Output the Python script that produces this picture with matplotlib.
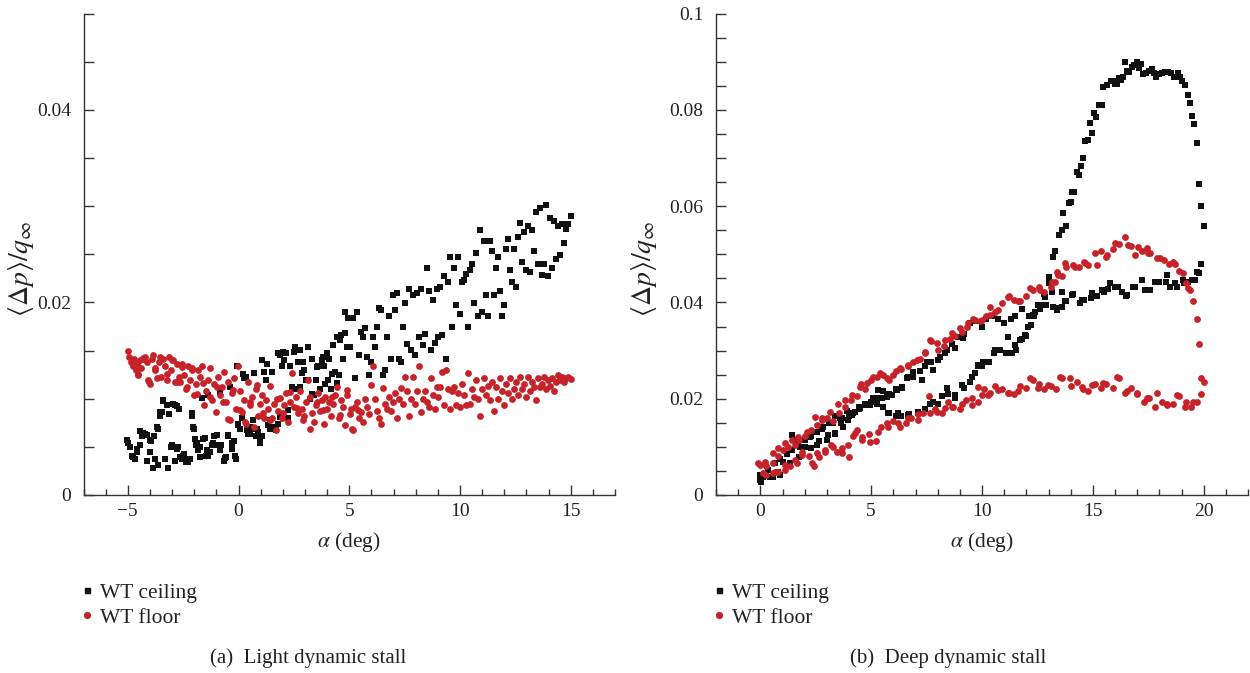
import matplotlib
matplotlib.use("Agg")
import matplotlib.pyplot as plt
from matplotlib.ticker import MultipleLocator, FixedLocator, FuncFormatter
from matplotlib.lines import Line2D

plt.rcParams['font.family'] = ['Liberation Serif', 'DejaVu Serif']
plt.rcParams['mathtext.fontset'] = 'stix'

# ---------------- (a) Light dynamic stall ----------------
light_ceiling_alpha = [
    -5.0, -4.89, -4.77, -4.68, -4.59, -4.46, -4.35, -4.23, -4.14, -4.0, -3.96, -3.82, -3.75, -3.64, -3.55,
    -3.46, -3.42, -3.33, -3.24, -3.15, -3.03, -2.97, -2.89, -2.80, -2.71, -2.62, -2.53, -2.44, -2.35, -2.26,
    -2.17, -2.08, -1.99, -1.95, -1.90, -1.81, -1.72, -1.63, -1.59, -1.49, -1.42, -1.36, -1.27, -1.18, -1.09,
    -1.0, -0.91, -0.82, -0.77, -0.65, -0.56, -0.47, -0.38, -0.29, -0.20, -0.11, -0.05, -0.02, 0.07, 0.16,
    0.25, 0.34, 0.43, 0.52, 0.61, 0.70, 0.79, 0.88, 0.97, 1.06, 1.15, 1.24, 1.33, 1.42, 1.51,
    1.59, 1.68, 1.77, 1.77, 1.86, 1.95, 2.04, 2.13, 2.22, 2.31, 2.40, 2.49, 2.58, 2.67, 2.76,
    2.85, 2.94, 3.03, 3.12, 3.21, 3.30, 3.39, 3.48, 3.57, 3.66, 3.75, 3.84, 3.92, 4.01, 4.10,
    4.19, 4.28, 4.37, 4.46, 4.55, 4.64, 4.73, 4.82, 4.91, 4.96, 5.04, 5.18, 5.27, 5.36, 5.45,
    5.54, 5.63, 5.72, 5.81, 5.90, 5.99, 6.08, 6.16, 6.25, 6.34, 6.43, 6.52, 6.61, 6.70, 6.79,
    6.88, 6.97, 7.06, 7.15, 7.24, 7.33, 7.42, 7.51, 7.60, 7.69, 7.78, 7.87, 7.96, 8.05, 8.14,
    8.23, 8.32, 8.40, 8.49, 8.58, 8.67, 8.76, 8.85, 8.94, 9.03, 9.12, 9.21, 9.30, 9.39, 9.48,
    9.57, 9.66, 9.75, 9.84, 9.93, 10.02, 10.11, 10.20, 10.29, 10.38, 10.47, 10.56, 10.65, 10.73, 10.82,
    10.91, 11.0, 11.09, 11.18, 11.27, 11.36, 11.45, 11.54, 11.63, 11.72, 11.81, 11.90, 11.99, 12.08, 12.17,
    12.26, 12.35, 12.44, 12.53, 12.62, 12.71, 12.80, 12.89, 12.97, 13.06, 13.15, 13.24, 13.33, 13.42, 13.51,
    13.60, 13.69, 13.78, 13.87, 13.96, 14.05, 14.14, 14.23, 14.32, 14.41, 14.50, 14.59, 14.68, 14.77, 14.86,
    15.0,
    -5.05, -4.9, -4.82, -4.6, -4.45, -4.3, -4.15, -4.0, -3.85, -3.7, -3.62, -3.55, -3.4, -3.17, -3.02,
    -2.87, -2.79, -2.72, -2.49, -2.27, -2.12, -2.04, -1.89, -1.74, -1.51, -1.37, -1.14, -0.99, -0.84, -0.61,
    -0.46, -0.31, -0.16, -0.01, 0.21, 0.37, 0.52, 0.67, 0.82, 0.97, 1.05, 1.27, 1.42, 1.65, 1.87,
    2.02, 2.25, 2.4, 2.55, 2.77, 2.92, 3.15, 3.3, 3.53, 3.83, 4.05, 4.2, 4.43, 4.58, 4.81]
light_ceiling_dp = [
    0.0054, 0.0050, 0.0039, 0.0037, 0.0048, 0.0052, 0.0061, 0.0063, 0.0035, 0.0045, 0.0056, 0.0061, 0.0037, 0.0069, 0.0082,
    0.0086, 0.0099, 0.0037, 0.0093, 0.0084, 0.0050, 0.0095, 0.0093, 0.0048, 0.0089, 0.0039, 0.0037, 0.0043, 0.0034, 0.0034,
    0.0037, 0.0082, 0.0069, 0.0058, 0.0052, 0.0047, 0.0039, 0.0101, 0.0058, 0.0041, 0.0047, 0.0104, 0.0045, 0.0052, 0.0061,
    0.0052, 0.0052, 0.0047, 0.0052, 0.0035, 0.0039, 0.0061, 0.0112, 0.0048, 0.0056, 0.0037, 0.0134, 0.0073, 0.0069, 0.0080,
    0.0121, 0.0123, 0.0063, 0.0063, 0.0069, 0.0127, 0.0061, 0.0065, 0.0054, 0.0061, 0.0128, 0.0119, 0.0073, 0.0069, 0.0128,
    0.0071, 0.0067, 0.0074, 0.0147, 0.0145, 0.0134, 0.0140, 0.0147, 0.0080, 0.0134, 0.0112, 0.0149, 0.0110, 0.0138, 0.0151,
    0.0127, 0.0130, 0.0119, 0.0154, 0.0100, 0.0141, 0.0104, 0.0119, 0.0134, 0.0110, 0.0140, 0.0134, 0.0115, 0.0147, 0.0141,
    0.0110, 0.0156, 0.0128, 0.0164, 0.0125, 0.0166, 0.0141, 0.0190, 0.0154, 0.0184, 0.0154, 0.0184, 0.0121, 0.0190, 0.0145,
    0.0169, 0.0164, 0.0173, 0.0143, 0.0125, 0.0138, 0.0164, 0.0154, 0.0175, 0.0194, 0.0192, 0.0125, 0.0130, 0.0164, 0.0186,
    0.0141, 0.0208, 0.0192, 0.0210, 0.0141, 0.0138, 0.0175, 0.0199, 0.0157, 0.0214, 0.0151, 0.0208, 0.0145, 0.0210, 0.0164,
    0.0214, 0.0156, 0.0167, 0.0236, 0.0212, 0.0151, 0.0203, 0.0158, 0.0214, 0.0164, 0.0216, 0.0166, 0.0227, 0.0141, 0.0221,
    0.0247, 0.0175, 0.0236, 0.0197, 0.0247, 0.0188, 0.0221, 0.0223, 0.0230, 0.0175, 0.0234, 0.0240, 0.0199, 0.0251, 0.0186,
    0.0275, 0.0190, 0.0264, 0.0208, 0.0186, 0.0264, 0.0253, 0.0208, 0.0236, 0.0247, 0.0212, 0.0186, 0.0197, 0.0256, 0.0266,
    0.0234, 0.0221, 0.0255, 0.0216, 0.0268, 0.0283, 0.0242, 0.0273, 0.0234, 0.0279, 0.0232, 0.0275, 0.0253, 0.0294, 0.0240,
    0.0298, 0.0229, 0.0240, 0.0301, 0.0227, 0.0288, 0.0236, 0.0285, 0.0245, 0.0279, 0.0249, 0.0281, 0.0262, 0.0276, 0.0281,
    0.0290,
    0.0057, 0.0050, 0.0041, 0.0045, 0.0066, 0.0064, 0.0062, 0.0057, 0.0028, 0.0071, 0.0031, 0.0086, 0.0098, 0.0028, 0.0052,
    0.0035, 0.0092, 0.0050, 0.0040, 0.0036, 0.0085, 0.0071, 0.0054, 0.0050, 0.0059, 0.0041, 0.0054, 0.0062, 0.0107, 0.0038,
    0.0062, 0.0054, 0.0040, 0.0074, 0.0126, 0.0067, 0.0071, 0.0078, 0.0069, 0.0060, 0.0140, 0.0136, 0.0078, 0.0071, 0.0081,
    0.0148, 0.0088, 0.0110, 0.0154, 0.0112, 0.0138, 0.0119, 0.0105, 0.0133, 0.0143, 0.0119, 0.0126, 0.0116, 0.0161, 0.0168]

light_floor_alpha = [
    -5.0, -4.93, -4.86, -4.77, -4.71, -4.64, -4.59, -4.53, -4.46, -4.39, -4.32, -4.23, -4.14, -4.05, -4.0,
    -3.92, -3.85, -3.78, -3.69, -3.60, -3.51, -3.42, -3.33, -3.24, -3.15, -3.06, -2.97, -2.89, -2.80, -2.71,
    -2.62, -2.53, -2.44, -2.35, -2.26, -2.17, -2.08, -1.99, -1.90, -1.81, -1.72, -1.63, -1.54, -1.45, -1.36,
    -1.27, -1.18, -1.09, -1.0, -0.91, -0.82, -0.73, -0.65, -0.56, -0.47, -0.38, -0.29, -0.20, -0.11, -0.02,
    0.07, 0.16, 0.25, 0.34, 0.43, 0.52, 0.61, 0.70, 0.79, 0.88, 0.97, 1.06, 1.15, 1.24, 1.33,
    1.42, 1.51, 1.59, 1.68, 1.77, 1.86, 1.95, 2.04, 2.13, 2.22, 2.31, 2.40, 2.49, 2.58, 2.67,
    2.76, 2.85, 2.94, 3.03, 3.12, 3.21, 3.30, 3.39, 3.48, 3.57, 3.66, 3.75, 3.84, 3.92, 4.01,
    4.10, 4.19, 4.28, 4.37, 4.46, 4.55, 4.64, 4.73, 4.82, 4.91, 5.04, 5.09, 5.18, 5.27, 5.36,
    5.45, 5.54, 5.63, 5.72, 5.81, 5.90, 5.99, 6.08, 6.16, 6.25, 6.34, 6.43, 6.52, 6.61, 6.70,
    6.79, 6.88, 6.97, 7.06, 7.15, 7.24, 7.33, 7.42, 7.51, 7.60, 7.69, 7.78, 7.87, 7.96, 8.05,
    8.14, 8.23, 8.32, 8.40, 8.49, 8.58, 8.67, 8.76, 8.85, 8.94, 9.03, 9.12, 9.21, 9.30, 9.39,
    9.48, 9.57, 9.66, 9.75, 9.84, 9.93, 10.02, 10.11, 10.20, 10.29, 10.38, 10.47, 10.56, 10.65, 10.73,
    10.82, 10.91, 11.0, 11.09, 11.18, 11.27, 11.36, 11.45, 11.54, 11.63, 11.72, 11.81, 11.90, 11.99, 12.08,
    12.17, 12.26, 12.35, 12.44, 12.53, 12.62, 12.71, 12.80, 12.89, 12.97, 13.06, 13.15, 13.24, 13.33, 13.42,
    13.51, 13.60, 13.69, 13.78, 13.87, 13.96, 14.05, 14.14, 14.23, 14.32, 14.41, 14.50, 14.59, 14.68, 14.77,
    14.86, 15.0,
    -4.75, -4.53, -4.3, -4.07, -3.77, -3.55, -3.24, -3.02, -2.79, -2.57, -2.34, -2.12, -1.89, -1.59, -1.29,
    -0.99, -0.69, -0.46, -0.24, 0.07, 0.29, 0.52, 0.82, 1.12, 1.42, 1.72, 2.02, 2.32, 2.63, 2.92,
    3.23, 3.53, 3.83, 4.2, 4.58, 4.88, 5.11, 5.41]
light_floor_dp = [
    0.0150, 0.0143, 0.0138, 0.0134, 0.0141, 0.0130, 0.0136, 0.0125, 0.0140, 0.0132, 0.0141, 0.0143, 0.0138, 0.0117, 0.0115,
    0.0141, 0.0145, 0.0132, 0.0121, 0.0138, 0.0123, 0.0141, 0.0134, 0.0119, 0.0143, 0.0130, 0.0140, 0.0117, 0.0136, 0.0123,
    0.0117, 0.0136, 0.0125, 0.0110, 0.0134, 0.0119, 0.0132, 0.0104, 0.0115, 0.0130, 0.0123, 0.0134, 0.0093, 0.0108, 0.0119,
    0.0132, 0.0099, 0.0115, 0.0086, 0.0123, 0.0104, 0.0112, 0.0128, 0.0097, 0.0117, 0.0078, 0.0106, 0.0121, 0.0089, 0.0134,
    0.0108, 0.0086, 0.0099, 0.0074, 0.0117, 0.0093, 0.0102, 0.0071, 0.0110, 0.0082, 0.0095, 0.0104, 0.0080, 0.0099, 0.0089,
    0.0113, 0.0080, 0.0095, 0.0067, 0.0087, 0.0101, 0.0080, 0.0093, 0.0106, 0.0076, 0.0097, 0.0127, 0.0091, 0.0102, 0.0085,
    0.0108, 0.0089, 0.0082, 0.0097, 0.0119, 0.0102, 0.0085, 0.0076, 0.0093, 0.0106, 0.0087, 0.0099, 0.0074, 0.0102, 0.0089,
    0.0097, 0.0082, 0.0095, 0.0104, 0.0112, 0.0080, 0.0099, 0.0091, 0.0073, 0.0104, 0.0084, 0.0089, 0.0067, 0.0091, 0.0097,
    0.0080, 0.0086, 0.0076, 0.0100, 0.0091, 0.0084, 0.0114, 0.0134, 0.0100, 0.0087, 0.0080, 0.0074, 0.0111, 0.0095, 0.0089,
    0.0102, 0.0087, 0.0097, 0.0106, 0.0080, 0.0100, 0.0111, 0.0095, 0.0123, 0.0108, 0.0082, 0.0100, 0.0123, 0.0095, 0.0108,
    0.0134, 0.0086, 0.0100, 0.0108, 0.0097, 0.0091, 0.0121, 0.0104, 0.0089, 0.0112, 0.0102, 0.0112, 0.0128, 0.0093, 0.0130,
    0.0110, 0.0089, 0.0108, 0.0112, 0.0093, 0.0106, 0.0091, 0.0115, 0.0104, 0.0093, 0.0127, 0.0095, 0.0110, 0.0102, 0.0119,
    0.0100, 0.0082, 0.0110, 0.0121, 0.0104, 0.0113, 0.0099, 0.0117, 0.0087, 0.0112, 0.0100, 0.0121, 0.0108, 0.0093, 0.0115,
    0.0106, 0.0121, 0.0100, 0.0110, 0.0117, 0.0104, 0.0123, 0.0110, 0.0115, 0.0102, 0.0123, 0.0108, 0.0117, 0.0112, 0.0099,
    0.0121, 0.0112, 0.0115, 0.0123, 0.0110, 0.0119, 0.0113, 0.0121, 0.0108, 0.0117, 0.0125, 0.0119, 0.0123, 0.0117, 0.0121,
    0.0123, 0.0120,
    0.0136, 0.0126, 0.0142, 0.0119, 0.0130, 0.0143, 0.0126, 0.0140, 0.0117, 0.0133, 0.0112, 0.0130, 0.0105, 0.0116, 0.0102,
    0.0112, 0.0097, 0.0079, 0.0109, 0.0088, 0.0076, 0.0097, 0.0114, 0.0085, 0.0078, 0.0100, 0.0085, 0.0107, 0.0090, 0.0078,
    0.0069, 0.0097, 0.0088, 0.0102, 0.0083, 0.0109, 0.0069, 0.0088]

# ---------------- (b) Deep dynamic stall ----------------
deep_ceiling_alpha = [
    0.0, 0.05, 0.55, 0.9, 1.36, 1.73, 2.27, 2.64, 3.0, 3.36, 3.64, 4.0, 4.45, 4.82, 5.27,
    5.55, 5.8, 6.1, 6.36, 6.7, 7.1, 7.45, 7.8, 8.2, 8.45, 8.8, 9.2, 9.45, 9.7, 10.0,
    10.3, 10.55, 10.8, 11.1, 11.35, 11.55, 11.8, 12.0, 12.2, 12.35, 12.6, 12.8, 13.0, 13.04, 13.2,
    13.3, 13.49, 13.59, 13.67, 13.79, 13.91, 14.0, 14.07, 14.16, 14.3, 14.39, 14.48, 14.57, 14.66, 14.8,
    14.88, 14.97, 15.06, 15.15, 15.29, 15.4, 15.47, 15.62, 15.8, 15.92, 15.98, 16.07, 16.16, 16.28, 16.37,
    16.46, 16.55, 16.64, 16.78, 16.87, 16.98, 17.07, 17.19, 17.28, 17.38, 17.52, 17.68, 17.77, 17.86, 17.97,
    18.12, 18.27, 18.37, 18.52, 18.67, 18.85, 18.94, 19.03, 19.17, 19.28, 19.38, 19.47, 19.58, 19.7, 19.8,
    19.9, 20.0,
    19.9, 19.8, 19.6, 19.3, 19.1, 18.8, 18.5, 18.3, 18.0, 17.6, 17.4, 17.2, 16.8, 16.5, 16.3,
    16.0, 15.7, 15.5, 15.2, 14.9, 14.6, 14.4, 14.1, 13.8, 13.6, 13.4, 13.2, 12.9, 12.6, 12.4,
    12.1, 11.8, 11.5, 11.3, 11.0, 10.7, 10.45, 10.2, 10.0, 9.7, 9.45, 9.2, 8.9, 8.65, 8.4,
    8.1, 7.7, 7.45, 7.2, 6.9, 6.6, 6.4, 6.1, 5.8, 5.55, 5.3, 5.0, 4.7, 4.45, 4.2,
    3.9, 3.6, 3.36, 3.1, 2.8, 2.55, 2.3, 2.0, 1.7, 1.45, 1.2, 0.9, 0.65, 0.35, 0.1,
    -0.02, 0.0, 0.44, 0.81, 1.04, 1.41, 1.56, 1.79, 2.01, 2.24, 2.54, 2.84, 3.07, 3.29, 3.37,
    3.67, 3.74, 3.97, 4.12, 4.27, 4.5, 4.72, 4.95, 5.1, 5.32, 5.47, 5.7, 5.92, 6.15, 6.38,
    6.67, 6.9, 7.28, 7.5, 7.8, 8.03, 8.33, 8.78, 9.15,
    5.77, 6.22, 6.67, 7.12, 7.65, 8.03, 8.4, 8.78, 9.08, 9.53, 9.83, 10.06,
    13.59, 14.04, 14.5, 14.95, 15.4, 15.77, 16.15, 16.53, 16.9, 17.35, 17.8, 18.33, 18.7, 19.08, 19.46,
    19.68,
    11.18, 11.49, 11.71, 11.94, 12.09, 12.31, 12.54, 12.84, 13.14, 13.37, 13.74, 10.58, 10.28, 9.83]
deep_ceiling_dp = [
    0.0034, 0.0028, 0.0037, 0.0041, 0.0067, 0.0078, 0.0097, 0.0112, 0.0115, 0.0127, 0.0149, 0.0164, 0.0179, 0.0186, 0.0190,
    0.0182, 0.0171, 0.0164, 0.0164, 0.0168, 0.0171, 0.0179, 0.0194, 0.0205, 0.0209, 0.0201, 0.0223, 0.0235, 0.0253, 0.0268,
    0.0276, 0.0294, 0.0302, 0.0294, 0.0294, 0.0302, 0.0324, 0.0331, 0.0354, 0.0372, 0.0387, 0.0417, 0.0440, 0.0453, 0.0495,
    0.0506, 0.0540, 0.0550, 0.0585, 0.0559, 0.0606, 0.0608, 0.0630, 0.0630, 0.0670, 0.0664, 0.0683, 0.0700, 0.0735, 0.0737,
    0.0772, 0.0751, 0.0793, 0.0785, 0.0810, 0.0811, 0.0847, 0.0852, 0.0861, 0.0861, 0.0853, 0.0853, 0.0866, 0.0862, 0.0868,
    0.0899, 0.0881, 0.0879, 0.0890, 0.0893, 0.0899, 0.0886, 0.0895, 0.0874, 0.0877, 0.0881, 0.0884, 0.0876, 0.0868, 0.0874,
    0.0876, 0.0879, 0.0879, 0.0876, 0.0868, 0.0876, 0.0868, 0.0859, 0.0851, 0.0830, 0.0814, 0.0787, 0.0770, 0.0731, 0.0645,
    0.0600, 0.0559,
    0.0480, 0.0462, 0.0447, 0.0443, 0.0440, 0.0432, 0.0432, 0.0443, 0.0443, 0.0425, 0.0425, 0.0447, 0.0432, 0.0413, 0.0421,
    0.0432, 0.0428, 0.0421, 0.0413, 0.0410, 0.0406, 0.0399, 0.0417, 0.0402, 0.0391, 0.0384, 0.0391, 0.0395, 0.0395, 0.0380,
    0.0372, 0.0387, 0.0372, 0.0365, 0.0358, 0.0365, 0.0372, 0.0365, 0.0350, 0.0361, 0.0358, 0.0335, 0.0328, 0.0313, 0.0302,
    0.0287, 0.0276, 0.0268, 0.0257, 0.0246, 0.0242, 0.0223, 0.0220, 0.0209, 0.0216, 0.0201, 0.0194, 0.0186, 0.0182, 0.0171,
    0.0175, 0.0160, 0.0164, 0.0149, 0.0138, 0.0130, 0.0123, 0.0115, 0.0104, 0.0093, 0.0086, 0.0074, 0.0067, 0.0052, 0.0037,
    0.0031, 0.0042, 0.0038, 0.0048, 0.0069, 0.0125, 0.0114, 0.0100, 0.0100, 0.0121, 0.0104, 0.0142, 0.0125, 0.0149, 0.0128,
    0.0159, 0.0142, 0.0156, 0.0166, 0.0173, 0.0180, 0.0190, 0.0187, 0.0201, 0.0218, 0.0201, 0.0204, 0.0208, 0.0218, 0.0225,
    0.0246, 0.0256, 0.0239, 0.0277, 0.0260, 0.0280, 0.0294, 0.0305, 0.0326,
    0.0170, 0.0170, 0.0166, 0.0173, 0.0190, 0.0190, 0.0222, 0.0208, 0.0228, 0.0246, 0.0267, 0.0277,
    0.0422, 0.0415, 0.0405, 0.0419, 0.0426, 0.0440, 0.0433, 0.0415, 0.0433, 0.0426, 0.0443, 0.0457, 0.0440, 0.0447, 0.0447,
    0.0464,
    0.0329, 0.0312, 0.0322, 0.0332, 0.0350, 0.0374, 0.0395, 0.0412, 0.0422, 0.0388, 0.0402, 0.0301, 0.0277, 0.0270]

deep_floor_alpha = [
    0.0, 0.27, 0.55, 0.8, 1.0, 1.27, 1.55, 1.73, 2.0, 2.27, 2.55, 2.8, 3.0, 3.27, 3.55,
    3.8, 4.1, 4.36, 4.55, 4.7, 5.0, 5.27, 5.55, 5.8, 6.1, 6.36, 6.64, 6.9, 7.2, 7.45,
    7.7, 8.0, 8.27, 8.55, 8.8, 9.1, 9.36, 9.6, 9.9, 10.2, 10.36, 10.6, 10.9, 11.2, 11.45,
    11.7, 12.0, 12.3, 12.55, 12.8, 13.1, 13.3, 13.45, 13.6, 13.8, 14.1, 14.36, 14.6, 14.8, 15.1,
    15.36, 15.6, 15.9, 16.2, 16.45, 16.7, 16.9, 17.2, 17.45, 17.6, 17.9, 18.2, 18.45, 18.7, 18.9,
    19.2, 19.4, 19.5, 19.7, 19.8, 19.9, 20.0,
    19.9, 19.7, 19.45, 19.2, 18.9, 18.6, 18.35, 18.1, 17.8, 17.55, 17.3, 17.0, 16.7, 16.45, 16.2,
    15.9, 15.6, 15.36, 15.1, 14.8, 14.55, 14.3, 14.0, 13.6, 13.36, 13.1, 12.8, 12.55, 12.3, 12.0,
    11.7, 11.45, 11.2, 10.9, 10.6, 10.36, 10.1, 9.8, 9.55, 9.27, 9.0, 8.7, 8.45, 8.2, 7.9,
    7.6, 7.35, 7.1, 6.8, 6.55, 6.3, 6.0, 5.7, 5.45, 5.2, 4.9, 4.6, 4.36, 4.2, 4.0,
    3.7, 3.45, 3.2, 2.9, 2.64, 2.4, 2.18, 1.9, 1.64, 1.36, 1.1, 0.8, 0.55, 0.27,
    -0.09, 0.21, 0.59, 0.81, 1.11, 1.41, 1.71, 2.09, 2.47, 2.77, 3.14, 3.52, 3.82, 4.12, 4.5,
    4.8, 5.1, 5.4, 5.7, 6.0, 6.3, 6.67, 7.05, 7.43, 7.65, 7.95, 8.33, 8.63, 9.0, 9.31,
    9.68,
    0.13, 0.66, 1.11, 1.56, 1.87, 2.32, 2.54, 2.92, 3.29, 3.67, 3.97, 4.27, 4.57, 4.95, 5.32,
    5.77, 6.22, 6.67, 7.12, 7.65, 7.96, 8.33, 8.63, 9.08, 9.53, 9.98,
    9.83, 10.28, 10.73, 11.18, 11.64, 12.16, 12.54, 12.99, 13.52, 13.97, 14.5, 14.95, 15.47, 16.07, 16.53,
    16.98, 17.43, 17.88, 18.33, 18.78, 19.15, 19.53,
    9.98, 10.36, 10.73, 11.18, 11.64, 12.16, 12.61, 13.14, 13.37, 13.74, 14.19, 14.64, 15.17, 15.62, 16.0,
    16.6, 17.05, 17.5, 18.03, 18.63, 19.08, 19.3]
deep_floor_dp = [
    0.0063, 0.0060, 0.0067, 0.0082, 0.0093, 0.0100, 0.0104, 0.0115, 0.0123, 0.0134, 0.0145, 0.0156, 0.0160, 0.0153, 0.0171,
    0.0182, 0.0197, 0.0205, 0.0231, 0.0220, 0.0238, 0.0246, 0.0250, 0.0238, 0.0257, 0.0261, 0.0268, 0.0276, 0.0283, 0.0294,
    0.0320, 0.0302, 0.0309, 0.0324, 0.0331, 0.0339, 0.0358, 0.0365, 0.0361, 0.0372, 0.0391, 0.0380, 0.0399, 0.0413, 0.0406,
    0.0402, 0.0413, 0.0425, 0.0432, 0.0421, 0.0432, 0.0443, 0.0458, 0.0454, 0.0473, 0.0477, 0.0473, 0.0484, 0.0477, 0.0503,
    0.0507, 0.0495, 0.0510, 0.0521, 0.0536, 0.0518, 0.0499, 0.0507, 0.0514, 0.0503, 0.0492, 0.0488, 0.0480, 0.0480, 0.0466,
    0.0440, 0.0425, 0.0402, 0.0365, 0.0313, 0.0242, 0.0235,
    0.0209, 0.0194, 0.0182, 0.0194, 0.0205, 0.0190, 0.0186, 0.0194, 0.0182, 0.0201, 0.0194, 0.0209, 0.0223, 0.0212, 0.0242,
    0.0223, 0.0231, 0.0223, 0.0231, 0.0216, 0.0220, 0.0235, 0.0227, 0.0242, 0.0220, 0.0227, 0.0220, 0.0231, 0.0238, 0.0223,
    0.0227, 0.0209, 0.0212, 0.0220, 0.0227, 0.0212, 0.0220, 0.0194, 0.0186, 0.0197, 0.0179, 0.0182, 0.0194, 0.0171, 0.0179,
    0.0205, 0.0171, 0.0168, 0.0160, 0.0149, 0.0142, 0.0153, 0.0149, 0.0142, 0.0112, 0.0127, 0.0115, 0.0134, 0.0123, 0.0078,
    0.0097, 0.0089, 0.0104, 0.0093, 0.0078, 0.0060, 0.0082, 0.0089, 0.0067, 0.0060, 0.0052, 0.0048, 0.0045, 0.0041,
    0.0066, 0.0069, 0.0087, 0.0097, 0.0107, 0.0114, 0.0121, 0.0131, 0.0163, 0.0159, 0.0173, 0.0190, 0.0197, 0.0208, 0.0225,
    0.0232, 0.0246, 0.0253, 0.0242, 0.0249, 0.0263, 0.0270, 0.0280, 0.0298, 0.0322, 0.0315, 0.0322, 0.0336, 0.0346, 0.0350,
    0.0364,
    0.0045, 0.0048, 0.0062, 0.0073, 0.0083, 0.0066, 0.0087, 0.0090, 0.0100, 0.0087, 0.0104, 0.0128, 0.0121, 0.0111, 0.0131,
    0.0142, 0.0149, 0.0159, 0.0156, 0.0170, 0.0173, 0.0180, 0.0183, 0.0190, 0.0201, 0.0208,
    0.0225, 0.0208, 0.0218, 0.0211, 0.0215, 0.0242, 0.0222, 0.0229, 0.0246, 0.0242, 0.0225, 0.0229, 0.0232, 0.0246, 0.0215,
    0.0211, 0.0201, 0.0211, 0.0190, 0.0208, 0.0183, 0.0194,
    0.0364, 0.0374, 0.0384, 0.0412, 0.0402, 0.0429, 0.0426, 0.0443, 0.0464, 0.0481, 0.0474, 0.0481, 0.0478, 0.0499, 0.0523,
    0.0519, 0.0516, 0.0502, 0.0492, 0.0485, 0.0461, 0.0429]

series_labels = ["WT ceiling", "WT floor"]
captions = ["(a)  Light dynamic stall", "(b)  Deep dynamic stall"]

BLACK = "#111111"
RED = "#c62229"
TEXT = "#222222"

fig = plt.figure(figsize=(12.5, 6.73), dpi=100)
ax1 = fig.add_axes([0.0668, 0.2645, 0.4252, 0.7153])
ax2 = fig.add_axes([0.5728, 0.2645, 0.4256, 0.7153])

def style(ax, xlim, ylim, ymajor):
    ax.set_xlim(*xlim)
    ax.set_ylim(*ylim)
    for s in ("top", "right"):
        ax.spines[s].set_visible(False)
    for s in ("left", "bottom"):
        ax.spines[s].set_color("#333333")
        ax.spines[s].set_linewidth(1.0)
    ax.xaxis.set_major_locator(MultipleLocator(5))
    ax.xaxis.set_minor_locator(MultipleLocator(1))
    ax.yaxis.set_major_locator(FixedLocator(ymajor))
    ax.yaxis.set_minor_locator(MultipleLocator(0.005))
    ax.yaxis.set_major_formatter(FuncFormatter(lambda v, p: "%g" % round(v, 4)))
    ax.tick_params(axis="both", which="both", direction="in", colors="#333333",
                   labelcolor=TEXT, labelsize=14, width=1.0)
    ax.tick_params(axis="x", which="major", length=7, pad=6)
    ax.tick_params(axis="x", which="minor", length=4.5)
    ax.tick_params(axis="y", which="major", length=7, pad=9)
    ax.tick_params(axis="y", which="minor", length=7)
    ax.set_xlabel(r"$\alpha$ (deg)", fontsize=15.5, color=TEXT, labelpad=7)
    ax.set_ylabel(r"$\langle\Delta p\rangle/q_\infty$", fontsize=20, color=TEXT)

style(ax1, (-7, 17), (0, 0.05), [0, 0.02, 0.04])
style(ax2, (-2, 22), (0, 0.1), [0, 0.02, 0.04, 0.06, 0.08, 0.1])
ax1.yaxis.set_label_coords(-0.090, 0.47)
ax2.yaxis.set_label_coords(-0.108, 0.47)

for ax, ca, cv, fa, fv in [
        (ax1, light_ceiling_alpha, light_ceiling_dp, light_floor_alpha, light_floor_dp),
        (ax2, deep_ceiling_alpha, deep_ceiling_dp, deep_floor_alpha, deep_floor_dp)]:
    ax.scatter(ca, cv, marker="s", s=13, color=BLACK, linewidths=0, zorder=3, clip_on=False)
    ax.scatter(fa, fv, marker="o", s=24, color=RED, linewidths=0, zorder=4, clip_on=False)

handles = [Line2D([], [], linestyle="none", marker="s", markersize=3.6, color=BLACK),
           Line2D([], [], linestyle="none", marker="o", markersize=4.2, color=RED)]
for xleg in (0.0561, 0.5616):
    fig.legend(handles, series_labels, loc="upper left", bbox_to_anchor=(xleg, 0.150),
               bbox_transform=fig.transFigure, frameon=False, fontsize=15.5,
               handlelength=0.6, handletextpad=0.3, labelspacing=0.22, borderpad=0.0,
               labelcolor=TEXT)

fig.text(308 / 1250, 1 - 658 / 673, captions[0], ha="center", va="center", fontsize=15, color=TEXT)
fig.text(948 / 1250, 1 - 658 / 673, captions[1], ha="center", va="center", fontsize=15, color=TEXT)

fig.savefig("out.png", dpi=100)
